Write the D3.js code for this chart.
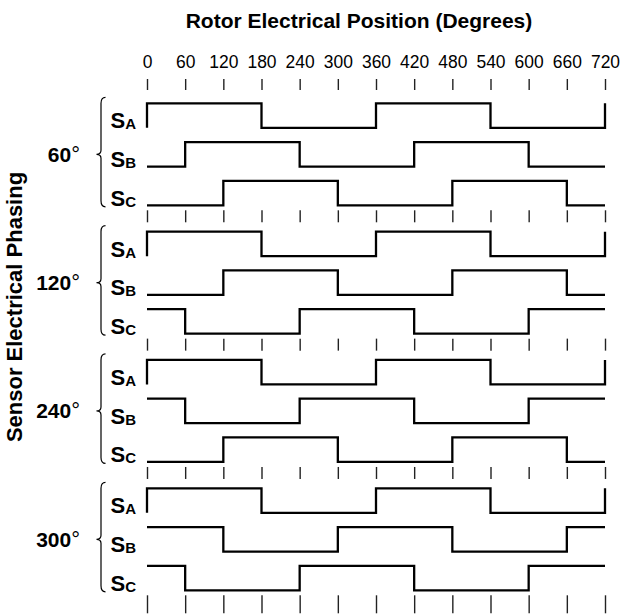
<!DOCTYPE html>
<html>
<head>
<meta charset="utf-8">
<script src="https://cdn.jsdelivr.net/npm/d3@7/dist/d3.min.js"></script>
<style>
  body { margin: 0; background: #fff; }
  svg { display: block; }
  text { font-family: Arial, "Liberation Sans", Helvetica, sans-serif; fill: #000; }
</style>
</head>
<body>
<svg id="chart" width="620" height="616"></svg>
<script>
// Rotor position tick values (electrical degrees)
const positions = [0, 60, 120, 180, 240, 300, 360, 420, 480, 540, 600, 660, 720];

// Sensor phasing groups and sensor names
const phasings = [60, 120, 240, 300];
const sensors = ["A", "B", "C"];

// Logic level of each sensor: [level before 0°, twelve 60° segments, level after 720°]
const wave60A  = [0, 1,1,1,0,0,0,1,1,1,0,0,0, 1];
const wave60B  = [0, 0,1,1,1,0,0,0,1,1,1,0,0, 0];
const wave60C  = [0, 0,0,1,1,1,0,0,0,1,1,1,0, 0];
const wave120A = [0, 1,1,1,0,0,0,1,1,1,0,0,0, 1];
const wave120B = [0, 0,0,1,1,1,0,0,0,1,1,1,0, 0];
const wave120C = [1, 1,0,0,0,1,1,1,0,0,0,1,1, 1];
const wave240A = [0, 1,1,1,0,0,0,1,1,1,0,0,0, 1];
const wave240B = [1, 1,0,0,0,1,1,1,0,0,0,1,1, 1];
const wave240C = [0, 0,0,1,1,1,0,0,0,1,1,1,0, 0];
const wave300A = [0, 1,1,1,0,0,0,1,1,1,0,0,0, 1];
const wave300B = [1, 1,1,0,0,0,1,1,1,0,0,0,1, 1];
const wave300C = [1, 1,0,0,0,1,1,1,0,0,0,1,1, 1];

const waves = [
  [wave60A, wave60B, wave60C],
  [wave120A, wave120B, wave120C],
  [wave240A, wave240B, wave240C],
  [wave300A, wave300B, wave300C]
];

const svg = d3.select("#chart");

// Scales
const x = d3.scaleLinear().domain([0, 720]).range([147, 605]);
const groupY = d3.scaleLinear().domain([0, phasings.length - 1]).range([103.3, 488.3]);
const rowY = d3.scaleLinear().domain([0, sensors.length - 1]).range([0, 77.5]);
const levelY = d3.scaleLinear().domain([0, 1]).range([24.5, 0]);

// Title
svg.append("text")
  .attr("x", 359).attr("y", 28)
  .attr("text-anchor", "middle")
  .attr("font-size", 21).attr("font-weight", "bold")
  .text("Rotor Electrical Position (Degrees)");

// Vertical axis title
svg.append("text")
  .attr("transform", "translate(22,307) rotate(-90)")
  .attr("text-anchor", "middle")
  .attr("font-size", 22).attr("font-weight", "bold")
  .text("Sensor Electrical Phasing");

// Top axis with degree labels
const topAxis = svg.append("g")
  .attr("transform", "translate(0,90)")
  .call(d3.axisTop(x).tickValues(positions).tickSize(11).tickPadding(11).tickFormat(d3.format("d")));
topAxis.select(".domain").remove();
topAxis.selectAll("line").attr("stroke", "#222").attr("stroke-width", 1.4);
topAxis.selectAll("text")
  .attr("font-size", 19)
  .attr("transform", "scale(0.92,1)")
  .attr("font-family", "Arial, 'Liberation Sans', sans-serif")
  .attr("fill", "#000");

// Tick rows separating groups and closing the bottom
const tickRows = phasings.map((p, i) => groupY(i) + rowY(2) + levelY(0) + 5);
tickRows.forEach((ty, i) => {
  const g = svg.append("g")
    .attr("transform", `translate(0,${ty})`)
    .call(d3.axisBottom(x).tickValues(positions).tickSize(i === tickRows.length - 1 ? 18 : 12).tickFormat(""));
  g.select(".domain").remove();
  g.selectAll("line").attr("stroke", "#222").attr("stroke-width", 1.4);
});

// Step line generator
const line = d3.line()
  .x(d => x(d[0]))
  .y(d => d[1])
  .curve(d3.curveStepAfter);

function wavePoints(levels, top) {
  const pts = [[0, top + levelY(levels[0])]];
  for (let s = 0; s < 12; s++) pts.push([s * 60, top + levelY(levels[s + 1])]);
  pts.push([720, top + levelY(levels[13])]);
  return pts;
}

phasings.forEach((p, gi) => {
  const g0 = groupY(gi);
  const grp = svg.append("g").attr("class", "group");

  // Group label with degree ring
  const mid = g0 + (rowY(2) + levelY(0)) / 2;
  const lbl = grp.append("text")
    .attr("x", 80).attr("y", mid + 7.5)
    .attr("text-anchor", "end")
    .attr("font-size", 21).attr("font-weight", "bold");
  lbl.append("tspan").text(p);
  lbl.append("tspan").attr("font-weight", "normal").attr("font-size", 22).attr("dy", 0).text("°");

  // Curly brace
  const top = g0 - 6, bot = g0 + rowY(2) + levelY(0) + 1.5;
  const bx = 101, tip = 96.5, ex = 105.5;
  grp.append("path")
    .attr("d", `M${ex},${top} C${bx + 1},${top} ${bx},${top + 2} ${bx},${top + 6}
                L${bx},${mid - 4} C${bx},${mid - 1} ${bx - 1.5},${mid} ${tip},${mid}
                C${bx - 1.5},${mid} ${bx},${mid + 1} ${bx},${mid + 4}
                L${bx},${bot - 6} C${bx},${bot - 2} ${bx + 1},${bot} ${ex},${bot}`)
    .attr("fill", "none").attr("stroke", "#000").attr("stroke-width", 1.2);

  sensors.forEach((s, si) => {
    const t = g0 + rowY(si);
    const sl = grp.append("text")
      .attr("x", 110.5).attr("y", t + levelY(0) + 0.5)
      .attr("font-weight", "bold");
    sl.append("tspan").attr("font-size", 22).text("S");
    sl.append("tspan").attr("font-size", 15).attr("dy", 1).text(s);

    grp.append("path")
      .attr("d", line(wavePoints(waves[gi][si], t)))
      .attr("fill", "none")
      .attr("stroke", "#000")
      .attr("stroke-width", 2.3)
      .attr("stroke-linejoin", "miter");
  });
});
</script>
</body>
</html>
